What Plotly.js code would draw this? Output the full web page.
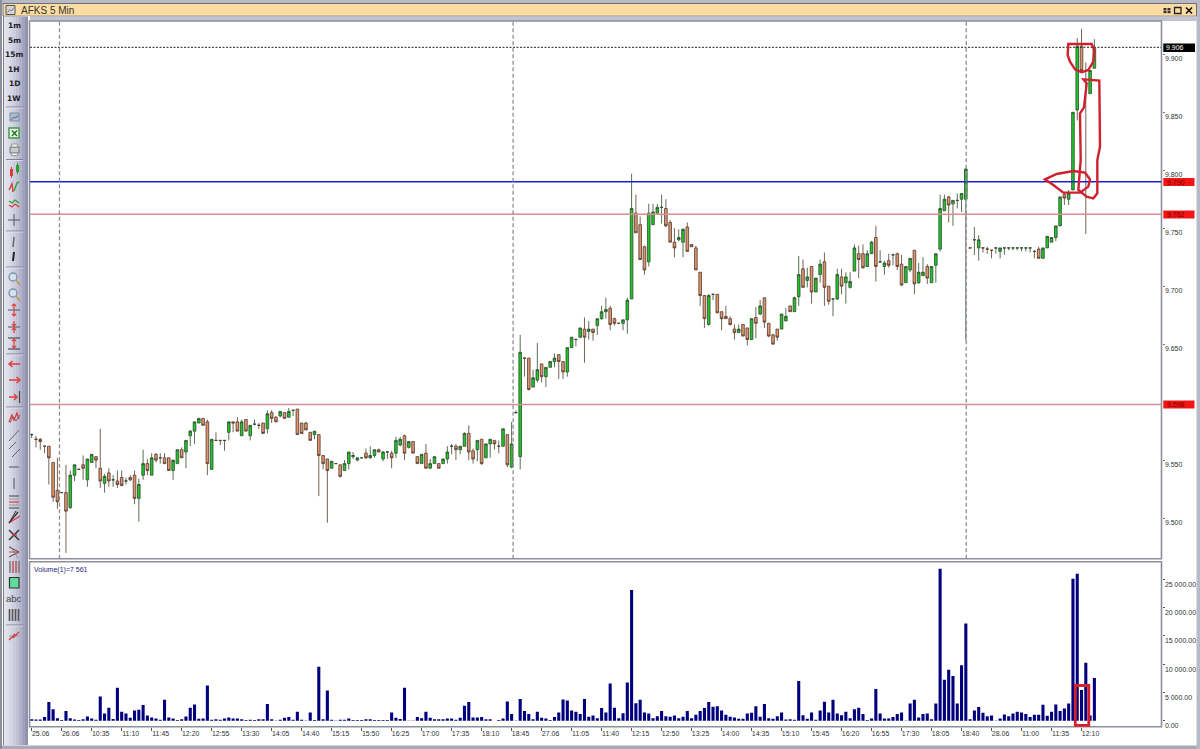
<!DOCTYPE html>
<html><head><meta charset="utf-8">
<script src="https://cdn.plot.ly/plotly-3.0.1.min.js"></script>
<style>html,body{margin:0;padding:0;background:#fff;overflow:hidden}#c{width:1200px;height:749px}</style>
</head><body><div id="c"></div>
<script>
// prices in thousandths of a rouble
const opens=[
9572,9568,9568,9562,9562,9548,9524,9522,9522,9509,
9537,9542,9546,9533,9548,9553,9543,9530,9539,9533,
9532,9535,9532,9535,9537,9517,9537,9547,9537,9555,
9552,9552,9552,9541,9547,9559,9557,9571,9575,9582,
9586,9583,9542,9567,9567,9567,9574,9583,9583,9571,
9585,9571,9581,9580,9582,9577,9591,9587,9588,9591,
9587,9593,9594,9582,9582,9574,9572,9572,9554,9551,
9543,9547,9546,9541,9547,9553,9550,9552,9556,9552,
9554,9559,9551,9557,9556,9556,9563,9571,9561,9566,
9553,9547,9556,9543,9547,9547,9547,9551,9562,9562,
9559,9562,9573,9558,9559,9568,9552,9564,9567,9562,
9562,9572,9544,9591,9553,9638,9638,9613,9619,9633,
9622,9630,9635,9641,9635,9626,9647,9654,9656,9663,
9661,9663,9666,9672,9678,9681,9672,9668,9668,9671,
9689,9763,9753,9734,9721,9753,9763,9768,9767,9755,
9738,9740,9738,9751,9736,9733,9712,9692,9667,9693,
9693,9678,9674,9672,9663,9660,9667,9664,9654,9673,
9676,9690,9668,9658,9663,9663,9670,9683,9678,9691,
9715,9705,9717,9695,9710,9721,9700,9689,9689,9708,
9703,9699,9713,9728,9728,9717,9728,9742,9721,9717,
9722,9727,9728,9719,9703,9714,9731,9703,9709,9717,
9703,9718,9732,9765,9777,9771,9774,9775,9775,9733,
9740,9733,9733,9732,9731,9733,9730,9733,9733,9733,
9733,9733,9733,9733,9730,9732,9724,9733,9738,9742,
9752,9779,9775,9783,9852,9907,9886,9866,9888];
const highs=[
9573,9571,9569,9562,9562,9548,9552,9522,9546,9541,
9546,9543,9554,9551,9555,9553,9577,9538,9543,9537,
9541,9541,9535,9537,9541,9534,9559,9551,9556,9556,
9556,9556,9552,9550,9559,9561,9567,9576,9583,9586,
9586,9585,9568,9574,9567,9567,9583,9583,9587,9585,
9585,9580,9585,9582,9582,9593,9593,9588,9592,9591,
9595,9593,9594,9582,9583,9574,9575,9572,9554,9551,
9549,9547,9546,9550,9557,9557,9552,9552,9560,9562,
9559,9560,9558,9558,9558,9570,9570,9572,9566,9566,
9553,9555,9564,9551,9553,9547,9551,9562,9564,9564,
9562,9574,9580,9560,9567,9568,9564,9568,9567,9567,
9577,9572,9583,9593,9658,9638,9638,9628,9651,9633,
9630,9635,9642,9641,9635,9647,9656,9655,9664,9673,
9670,9663,9672,9683,9690,9683,9673,9668,9671,9690,
9797,9779,9760,9735,9771,9771,9771,9779,9775,9757,
9750,9749,9750,9755,9736,9735,9712,9692,9693,9693,
9693,9678,9683,9674,9667,9667,9667,9664,9672,9682,
9688,9690,9668,9659,9663,9676,9681,9683,9691,9726,
9723,9716,9717,9707,9723,9729,9700,9689,9715,9715,
9712,9712,9736,9735,9736,9731,9739,9752,9731,9722,
9728,9728,9729,9727,9717,9724,9731,9720,9725,9719,
9717,9728,9779,9779,9778,9774,9780,9780,9802,9733,
9751,9744,9733,9734,9731,9733,9733,9733,9733,9733,
9733,9733,9733,9733,9731,9734,9733,9743,9742,9752,
9777,9780,9783,9850,9914,9922,9893,9886,9913];
const lows=[
9569,9561,9559,9556,9529,9514,9508,9522,9470,9508,
9532,9542,9533,9527,9548,9543,9526,9522,9527,9527,
9526,9528,9529,9532,9512,9497,9533,9537,9537,9548,
9547,9547,9541,9533,9547,9552,9543,9562,9564,9582,
9580,9537,9542,9567,9563,9558,9567,9574,9575,9571,
9575,9567,9580,9577,9573,9573,9582,9583,9587,9586,
9587,9588,9572,9573,9576,9567,9568,9519,9542,9496,
9543,9547,9535,9541,9542,9551,9549,9552,9551,9551,
9552,9557,9549,9551,9543,9552,9562,9550,9560,9556,
9547,9547,9543,9543,9547,9543,9547,9547,9555,9550,
9555,9562,9550,9547,9549,9546,9552,9552,9559,9556,
9562,9544,9543,9590,9542,9622,9610,9613,9617,9617,
9613,9630,9630,9620,9620,9622,9647,9648,9655,9634,
9654,9653,9658,9671,9672,9662,9666,9668,9662,9659,
9689,9746,9723,9710,9717,9753,9763,9754,9751,9738,
9725,9739,9725,9730,9734,9714,9683,9664,9666,9688,
9677,9662,9672,9666,9654,9660,9657,9649,9654,9655,
9675,9664,9656,9650,9653,9663,9670,9678,9678,9683,
9699,9699,9685,9695,9703,9683,9684,9674,9688,9693,
9685,9698,9713,9707,9715,9717,9728,9704,9720,9710,
9716,9718,9714,9700,9703,9712,9693,9702,9709,9702,
9703,9703,9730,9765,9755,9752,9767,9764,9653,9733,
9727,9722,9729,9728,9724,9728,9724,9727,9731,9731,
9731,9730,9730,9729,9724,9724,9724,9733,9738,9739,
9752,9770,9770,9783,9843,9885,9745,9866,9888];
const closes=[
9572,9568,9566,9562,9552,9518,9514,9522,9506,9537,
9546,9542,9543,9551,9555,9550,9532,9536,9532,9533,
9529,9528,9532,9533,9517,9529,9547,9541,9552,9550,
9552,9547,9541,9550,9559,9552,9567,9575,9583,9586,
9580,9547,9568,9567,9567,9567,9583,9582,9575,9583,
9575,9580,9581,9580,9573,9590,9586,9583,9592,9586,
9592,9593,9572,9573,9576,9567,9575,9554,9547,9541,
9549,9547,9536,9547,9557,9554,9552,9552,9552,9554,
9559,9557,9557,9557,9552,9567,9568,9556,9566,9556,
9547,9555,9543,9547,9553,9543,9551,9557,9562,9559,
9562,9573,9557,9551,9567,9547,9564,9568,9564,9562,
9577,9546,9564,9591,9643,9638,9611,9621,9628,9622,
9630,9635,9638,9635,9626,9647,9656,9654,9664,9656,
9663,9660,9672,9678,9680,9667,9668,9668,9671,9688,
9767,9746,9723,9714,9763,9764,9768,9768,9752,9738,
9733,9742,9749,9730,9734,9714,9692,9672,9692,9693,
9677,9672,9672,9667,9660,9663,9657,9654,9672,9668,
9683,9669,9657,9650,9656,9676,9674,9678,9690,9710,
9699,9708,9695,9707,9719,9699,9687,9689,9710,9700,
9708,9704,9733,9723,9716,9728,9738,9717,9721,9720,
9718,9727,9717,9701,9717,9724,9702,9712,9712,9707,
9717,9728,9767,9775,9770,9774,9774,9780,9801,9733,
9740,9740,9733,9732,9731,9733,9733,9733,9733,9733,
9733,9733,9733,9733,9730,9724,9733,9743,9742,9752,
9777,9776,9780,9850,9907,9886,9886,9886,9905];
const volumes=[
295,236,236,650,3300,2060,470,120,1710,470,
236,120,295,770,410,180,4300,1300,2300,300,
5840,1590,1300,530,1830,1950,2770,940,590,410,
180,3710,590,410,120,295,770,2300,2890,350,
410,6250,180,295,180,410,590,410,410,295,
120,180,120,295,295,2950,295,60,180,530,
650,180,1590,180,60,1470,120,9550,295,5370,
180,60,180,180,410,120,120,120,295,295,
120,120,120,120,1470,530,300,5840,60,60,
650,470,1590,530,295,295,295,410,410,180,
530,2650,3300,590,590,650,295,295,20,120,
410,3420,1180,60,3830,1710,1180,295,1590,530,
410,120,650,1470,3770,3600,1830,1590,1180,3830,
710,940,470,2240,1470,6600,2300,470,1350,6780,
23100,3120,3710,1470,1300,470,825,1710,825,710,
940,470,710,1710,470,1060,1710,2240,3300,2480,
2590,1830,1060,710,590,350,350,1300,1420,2590,
710,2950,470,350,825,1470,236,295,180,7020,
1000,350,1470,180,1830,3360,1470,3710,1300,1000,
1590,470,2060,2300,1180,120,410,5600,1300,410,
410,650,1180,1470,60,3070,3710,590,1180,1300,
295,3070,26840,7260,9030,7900,3070,9790,17200,295,
1830,2420,1420,825,940,60,410,1120,825,1300,
1590,1470,1180,650,1060,1060,2830,885,1590,2890,
1710,2180,3070,25075,25960,5420,10260,940,7561];
const tickLabels=["25.06","26.06","10:35","11:10","11:45","12:20","12:55","13:30","14:05","14:40","15:15","15:50","16:25","17:00","17:35","18:10","18:45","27.06","11:05","11:40","12:15","12:50","13:25","14:00","14:35","15:10","15:45","16:20","16:55","17:30","18:05","18:40","28.06","11:00","11:35","12:10"];
const priceTicks=[9.5,9.55,9.65,9.7,9.75,9.8,9.85,9.9];
const priceTickText=["9.500","9.550","9.650","9.700","9.750","9.800","9.850","9.900"];
const volumeTicks=[0,5000,10000,15000,20000,25000];
const volumeTickText=["0.00","5 000.00","10 000.00","15 000.00","20 000.00","25 000.00"];
const sessionBreaks=[6.48,112.35,218.1];
const lastPrice=9.906, resistance=9.790, support=9.762, lowerLevel=9.598;
const toolbarLabels=["1m","5m","15m","1H","1D","1W"];

const W=1200,H=749;
const X=p=>p/W, Y=p=>1-p/H;
const xs=opens.map((_,i)=>i);
const tickIdx=tickLabels.map((_,k)=>k*7);
const xRange=[(30-31.7)/4.285,(1161.5-31.7)/4.285];
const priceRange=[9.4649,9.9287];
const volRange=[-1060,28095];

const S=[];
function rect(x0,y0,x1,y1,fill,line,w){S.push({type:'rect',xref:'paper',yref:'paper',x0:X(x0),x1:X(x1),y0:Y(y0),y1:Y(y1),fillcolor:fill||'rgba(0,0,0,0)',line:{color:line||'rgba(0,0,0,0)',width:line?(w||1):0}});}
function ln(x0,y0,x1,y1,c,w,d){S.push({type:'line',xref:'paper',yref:'paper',x0:X(x0),x1:X(x1),y0:Y(y0),y1:Y(y1),line:{color:c,width:w||1,dash:d||'solid'}});}
function poly(pts,c,w,closed,fill){const p='M'+pts.map(a=>X(a[0]).toFixed(5)+','+Y(a[1]).toFixed(5)).join(' L')+(closed?' Z':'');S.push({type:'path',xref:'paper',yref:'paper',path:p,line:{color:c,width:w||1},fillcolor:fill||'rgba(0,0,0,0)'});}
function circ(cx,cy,r,c,fill,w){S.push({type:'circle',xref:'paper',yref:'paper',x0:X(cx-r),x1:X(cx+r),y0:Y(cy+r),y1:Y(cy-r),line:{color:c,width:w||1},fillcolor:fill||'rgba(0,0,0,0)'});}

// window frame
rect(0,0,1200,4,'#b9bac8');
rect(0,745.5,1200,749,'#a9aab8');
rect(1196.5,0,1200,749,'#b9bac8');
rect(0,0,2,749,'#8c8d9c');
rect(3,3.5,1196.5,16.2,'#fbdca2','#6f6f78',1);
rect(4,16.2,1196.5,21,'#c3c4d0');
rect(28,16,30,745,'#ffffff');
// toolbar gradient
const bands=['#e3e3ee','#dcdcea','#d4d5e4','#cbcbdd','#c0c1d5','#b2b3ca','#a2a3bc','#9192ad'];
bands.forEach((c,k)=>rect(4+k*3,17,7+k*3,745,c));
ln(3.5,17,3.5,745,'#7d7e8c',1);
// panel frames
rect(29.5,21,1161.5,558.8,'rgba(0,0,0,0)','#8c8f9a',1.6);
rect(29.5,561.7,1161.5,726.8,'rgba(0,0,0,0)','#8c8f9a',1.6);
// title-bar icon and buttons
rect(6,5.5,15,14.5,'#d5d5d5','#555',1);
poly([[7.5,12.5],[10,9.5],[11.5,11],[14,7.5]],'#777',1);
rect(1163.5,8,1166.5,10.5,'#333');rect(1167.5,8,1170.5,10.5,'#333');rect(1163.5,11,1166.5,13.2,'#333');rect(1167.5,11,1170.5,13.2,'#333');
rect(1174.5,7.5,1181,13.5,'rgba(0,0,0,0)','#222',1.3);
ln(1186,7.5,1192,13.5,'#111',1.6);ln(1192,7.5,1186,13.5,'#111',1.6);

// toolbar separators
[107,159.5,231,267,354,407,625].forEach(y=>{ln(6,y,23,y,'#70717f',0.8);ln(6,y+1,23,y+1,'#f0f0f5',0.6);});
const R='#dd3a3a',G='#2ca02c',K='#555';
// toolbar icons
rect(10,113,19,121,'#a9bdd3','#7c8ea3',1);poly([[11,120],[14,117],[16,118],[18,115]],'#667',1);
rect(9,128,19,138,'#e7f4e3','#3b9a3f',1.4);ln(12,130.5,17,136,'#226e2a',1.3);ln(17,130.5,12,136,'#226e2a',1.3);
rect(10,147,19,153,'#c6c9d4','#777',1);rect(11.5,144,17.5,147,'#eee','#888',.8);rect(11.5,153,17.5,155.5,'#eee','#888',.8);
rect(10,169,13,176,R);ln(11.5,167,11.5,178,R,1);rect(16,165,19,172,G);ln(17.5,163,17.5,174,G,1);
poly([[9,190],[12,184],[13,192]],R,1.4);poly([[14,191],[17,183],[19,182]],G,1.4);
poly([[9,201],[12,203],[15,200],[19,203]],G,1.2);poly([[9,205],[12,207],[15,204],[19,207]],R,1.2);
ln(14,214,14,226,K,1);ln(8,220,20,220,K,1);
ln(14,237,13,247,'#666',1.5);
ln(14,252,13,261,'#222',2);
circ(13,277,4,'#7d8fa8','#d4e2ef',1.3);ln(16,280,20,285,'#b99a4e',1.6);
circ(13,293,4,'#7d8fa8','#d4e2ef',1.3);ln(16,296,20,301,'#b99a4e',1.6);
ln(8,310,20,310,'#555',1);ln(14,304,14,316,R,1.2);poly([[12,306],[14,304],[16,306]],R,1.2);poly([[12,314],[14,316],[16,314]],R,1.2);
ln(8,327,20,327,'#555',1);ln(14,321,14,333,R,1.2);poly([[12,324],[14,326],[16,324]],R,1.2);poly([[12,330],[14,328],[16,330]],R,1.2);
ln(8,338,20,338,'#333',1);ln(8,349,20,349,'#333',1);ln(14,339,14,348,R,1.2);poly([[12,341],[14,339],[16,341]],R,1.2);poly([[12,346],[14,348],[16,346]],R,1.2);
ln(9,364,20,364,R,1.5);poly([[12.5,361],[9,364],[12.5,367]],R,1.5);
ln(9,380,20,380,R,1.5);poly([[16.5,377],[20,380],[16.5,383]],R,1.5);
ln(9,397,17,397,R,1.5);poly([[14,394],[17,397],[14,400]],R,1.5);ln(19.5,391,19.5,403,'#444',1.2);
poly([[9,422],[12,415],[14,420],[17,413],[19,419]],R,1.3);poly([[10,423],[13,417],[16,421],[20,415]],'#844',.8);
ln(9,441,19,430,'#666',1);
ln(9,449,16,442,'#666',1);ln(12,457,20,449,'#666',1);
ln(9,467,19,467,'#666',1.2);
ln(14,478,14,489,'#666',1.2);
ln(9,496,19,496,'#444',1);ln(9,502,19,502,R,1.2);ln(9,508,19,508,'#444',1);ln(9,499,19,499,'#999',1);ln(9,505,19,505,'#999',1);
poly([[9,523],[18,512]],'#333',1.2);poly([[9,523],[20,516]],R,1.2);poly([[9,523],[16,511]],'#333',1);
poly([[9,530],[19,540]],'#333',1.4);poly([[19,530],[9,540]],'#333',1.4);poly([[12,535],[17,535]],R,1.4);
ln(9,547,19,552,'#444',1);ln(9,557,19,552,'#444',1);ln(9,552,19,552,R,1);ln(10,546,18,558,'#777',.7);
[10,13,16,19].forEach((x,k)=>ln(x,561,x,573,k==1||k==2?'#b55':'#777',1.5));
rect(9.5,577.5,19,588,'#5fdc9c','#333',1.2);
[9.5,12.5,15.5,18.5].forEach(x=>ln(x,609,x,621,'#555',1.6));
poly([[9,640],[15,634],[13,638],[19,632]],R,1.3);ln(9,636,19,636,'#888',.7);

// level lines
const hl=(v,c,w,d)=>S.push({type:'line',xref:'x',yref:'y',x0:xRange[0],x1:xRange[1],y0:v,y1:v,line:{color:c,width:w,dash:d}});
hl(lastPrice,'#222',1,'2px,1.5px');
hl(resistance,'#1f1fd0',1.5,'solid');
hl(support,'#d98f8f',1.6,'solid');
hl(lowerLevel,'#d98f8f',1.6,'solid');
sessionBreaks.forEach(b=>S.push({type:'line',xref:'x',yref:'y',x0:b,x1:b,y0:priceRange[0],y1:priceRange[1],line:{color:'#8f8f8f',width:1.3,dash:'4px,2.5px'}}));

// hand-drawn red notes
const z=(a)=>a.map(p=>[960+p[0]/3,20+p[1]/3]);
poly(z([[325,72],[395,72],[403,90],[400,125],[385,150],[365,157],[345,148],[330,125],[323,105],[325,72]]),'#d0202e',2.4,true);
poly(z([[370,178],[418,182],[420,380],[412,420],[412,520],[400,535],[380,530],[355,510],[362,420],[360,280],[372,262],[380,190],[370,178]]),'#d0202e',2.4,true);
poly(z([[255,478],[290,462],[340,453],[375,458],[390,478],[385,500],[360,518],[310,518],[280,495],[255,478]]),'#d0202e',2.4,true);
rect(1075.3,685.5,1088.8,725.3,'rgba(0,0,0,0)','#d6202c',2.8);

// value flags
rect(1163.3,43.5,1195,52,'#000');
rect(1163.3,178,1194.5,186,'#f01616');
rect(1163.3,210.5,1194.5,218.5,'#f01616');
rect(1163.3,400.5,1194.5,408.5,'#f01616');

const A=[];
function txt(x,y,t,o){A.push(Object.assign({xref:'paper',yref:'paper',x:X(x),y:Y(y),text:t,showarrow:false,xanchor:'left',yanchor:'middle',font:{family:'Liberation Sans',size:7,color:'#333'},borderpad:0,borderwidth:0},o||{}));}
txt(21,10,'AFKS 5 Min',{font:{family:'Liberation Sans',size:10,color:'#333'}});
const tbY=[26,40.7,55,69.3,83.5,98];
toolbarLabels.forEach((t,k)=>txt(14,tbY[k],'<b>'+t+'</b>',{xanchor:'center',font:{family:'DejaVu Sans',size:7.5,color:'#222'}}));
txt(14,598.5,'abc',{xanchor:'center',font:{family:'Liberation Sans',size:9.5,color:'#444'}});
txt(34,570,'Volume(1)=7 561',{font:{family:'Liberation Sans',size:7,color:'#28287e'}});
txt(1166,47.8,lastPrice.toFixed(3),{font:{family:'Liberation Sans',size:7,color:'#fff'}});
txt(1167,182,resistance.toFixed(3),{font:{family:'Liberation Sans',size:7,color:'#700'}});
txt(1167,214.6,support.toFixed(3),{font:{family:'Liberation Sans',size:7,color:'#700'}});
txt(1167,404.5,lowerLevel.toFixed(3),{font:{family:'Liberation Sans',size:7,color:'#700'}});

const data=[
{type:'candlestick',x:xs,open:opens.map(v=>v/1000),high:highs.map(v=>v/1000),low:lows.map(v=>v/1000),close:closes.map(v=>v/1000),xaxis:'x',yaxis:'y',whiskerwidth:0,
 increasing:{line:{color:'#2f4a2f',width:0.8},fillcolor:'#20c428'},decreasing:{line:{color:'#55392a',width:0.8},fillcolor:'#dc9670'},hoverinfo:'skip'},
{type:'bar',x:xs,y:volumes,xaxis:'x2',yaxis:'y2',marker:{color:'#00007f',line:{width:0}},hoverinfo:'skip'}
];
const fnt={family:'Liberation Sans',size:7,color:'#333'};
const layout={width:W,height:H,margin:{l:0,r:0,t:0,b:0,pad:0},paper_bgcolor:'#fff',plot_bgcolor:'#fff',showlegend:false,bargap:0.28,boxgap:0.12,
 xaxis:{domain:[X(30),X(1161.5)],anchor:'y',range:xRange,rangeslider:{visible:false},showgrid:false,zeroline:false,showticklabels:false,ticks:'',fixedrange:true},
 yaxis:{domain:[Y(558.8),Y(21)],anchor:'x',side:'right',range:priceRange,tickmode:'array',tickvals:priceTicks,ticktext:priceTickText,showgrid:false,zeroline:false,ticks:'outside',ticklen:2,tickcolor:'#777',tickfont:fnt,ticklabelshift:4,ticklabelstandoff:-1,fixedrange:true},
 xaxis2:{domain:[X(30),X(1161.5)],anchor:'y2',range:xRange,tickmode:'array',tickvals:tickIdx,ticktext:tickLabels,showgrid:false,zeroline:false,ticks:'outside',ticklen:3,tickcolor:'#555',tickfont:fnt,tickangle:0,ticklabelshift:9,ticklabelstandoff:-3,fixedrange:true},
 yaxis2:{domain:[Y(726.8),Y(561.7)],anchor:'x2',side:'right',range:volRange,tickmode:'array',tickvals:volumeTicks,ticktext:volumeTickText,showgrid:false,zeroline:false,ticks:'outside',ticklen:2,tickcolor:'#555',tickfont:fnt,ticklabelshift:5,ticklabelstandoff:-1,fixedrange:true},
 shapes:S,annotations:A};
Plotly.newPlot('c',data,layout,{staticPlot:true,displayModeBar:false});
</script></body></html>
